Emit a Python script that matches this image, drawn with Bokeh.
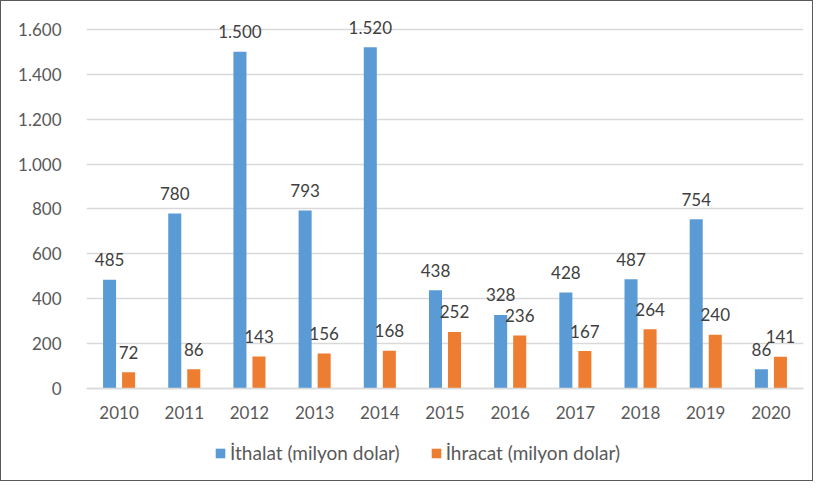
from bokeh.plotting import figure
from bokeh.models import (ColumnDataSource, FactorRange, Range1d, Legend, LegendItem,
                          CustomJSTickFormatter, FixedTicker, LabelSet)
from bokeh.transform import dodge
from bokeh.core.properties import value
from bokeh.embed import file_html
from bokeh.resources import INLINE

years = ["2010", "2011", "2012", "2013", "2014", "2015", "2016", "2017", "2018", "2019", "2020"]
ithalat = [485, 780, 1500, 793, 1520, 438, 328, 428, 487, 754, 86]
ihracat = [72, 86, 143, 156, 168, 252, 236, 167, 264, 240, 141]
y_ticks = [0, 200, 400, 600, 800, 1000, 1200, 1400, 1600]
series_names = ["İthalat (milyon dolar)", "İhracat (milyon dolar)"]

BLUE = "#5B9BD5"
ORANGE = "#ED7D31"
FONT = "Lato"


def fmt(v):
    return f"{v:,}".replace(",", ".")


src = ColumnDataSource(dict(
    years=years,
    ithalat=ithalat,
    ihracat=ihracat,
    lab_ith=[fmt(v) for v in ithalat],
    lab_ihr=[fmt(v) for v in ihracat],
))

p = figure(width=813, height=481, output_backend="svg", toolbar_location=None,
           x_range=FactorRange(factors=years, range_padding=0),
           y_range=Range1d(-392, 1711),
           min_border_left=85, min_border_right=11, min_border_top=3, min_border_bottom=6)
p.styles = {"border": "1px solid #595959"}

OFF = 0.146
r1 = p.vbar(x=dodge("years", -OFF, range=p.x_range), top="ithalat", width=0.2,
            source=src, fill_color=BLUE, line_color=None)
r2 = p.vbar(x=dodge("years", OFF, range=p.x_range), top="ihracat", width=0.2,
            source=src, fill_color=ORANGE, line_color=None)

for col, lab, off in (("ithalat", "lab_ith", -OFF), ("ihracat", "lab_ihr", OFF)):
    ls = LabelSet(x=dodge("years", off, range=p.x_range), y=col, text=lab, source=src,
                  text_align="center", text_baseline="middle", y_offset=20,
                  text_font=value(FONT), text_font_size="17px", text_color="#404040")
    p.add_layout(ls)

p.outline_line_color = None
p.background_fill_color = "white"
p.border_fill_color = "white"

p.xgrid.grid_line_color = None
p.ygrid.grid_line_color = "#D9D9D9"
p.ygrid.grid_line_width = 1.3
p.ygrid.ticker = FixedTicker(ticks=y_ticks)

p.yaxis.ticker = FixedTicker(ticks=y_ticks)
p.yaxis.formatter = CustomJSTickFormatter(code="""
    const t = Math.round(tick);
    if (t >= 1000) { return Math.floor(t/1000) + '.' + String(t % 1000).padStart(3, '0'); }
    return String(t);
""")
for ax in (p.xaxis[0], p.yaxis[0]):
    ax.axis_line_color = None
    ax.major_tick_line_color = None
    ax.minor_tick_line_color = None
    ax.major_label_text_font = FONT
    ax.major_label_text_font_size = "17px"
    ax.major_label_text_color = "#595959"
p.xaxis.fixed_location = 0
p.xaxis.axis_line_color = "#D9D9D9"
p.xaxis.axis_line_width = 1.3
p.yaxis.major_label_standoff = 19
p.xaxis.major_label_standoff = 11

legend = Legend(items=[LegendItem(label=series_names[0], renderers=[r1]),
                       LegendItem(label=series_names[1], renderers=[r2])],
                orientation="horizontal", location=(128, 12),
                glyph_width=12, glyph_height=12, label_standoff=4, spacing=30,
                padding=0, margin=0, border_line_color=None, background_fill_alpha=0,
                label_text_font=FONT, label_text_font_size="19px", label_text_color="#595959",
                label_height=20)
p.add_layout(legend, "center")

open("out.html", "w").write(file_html(p, INLINE))
